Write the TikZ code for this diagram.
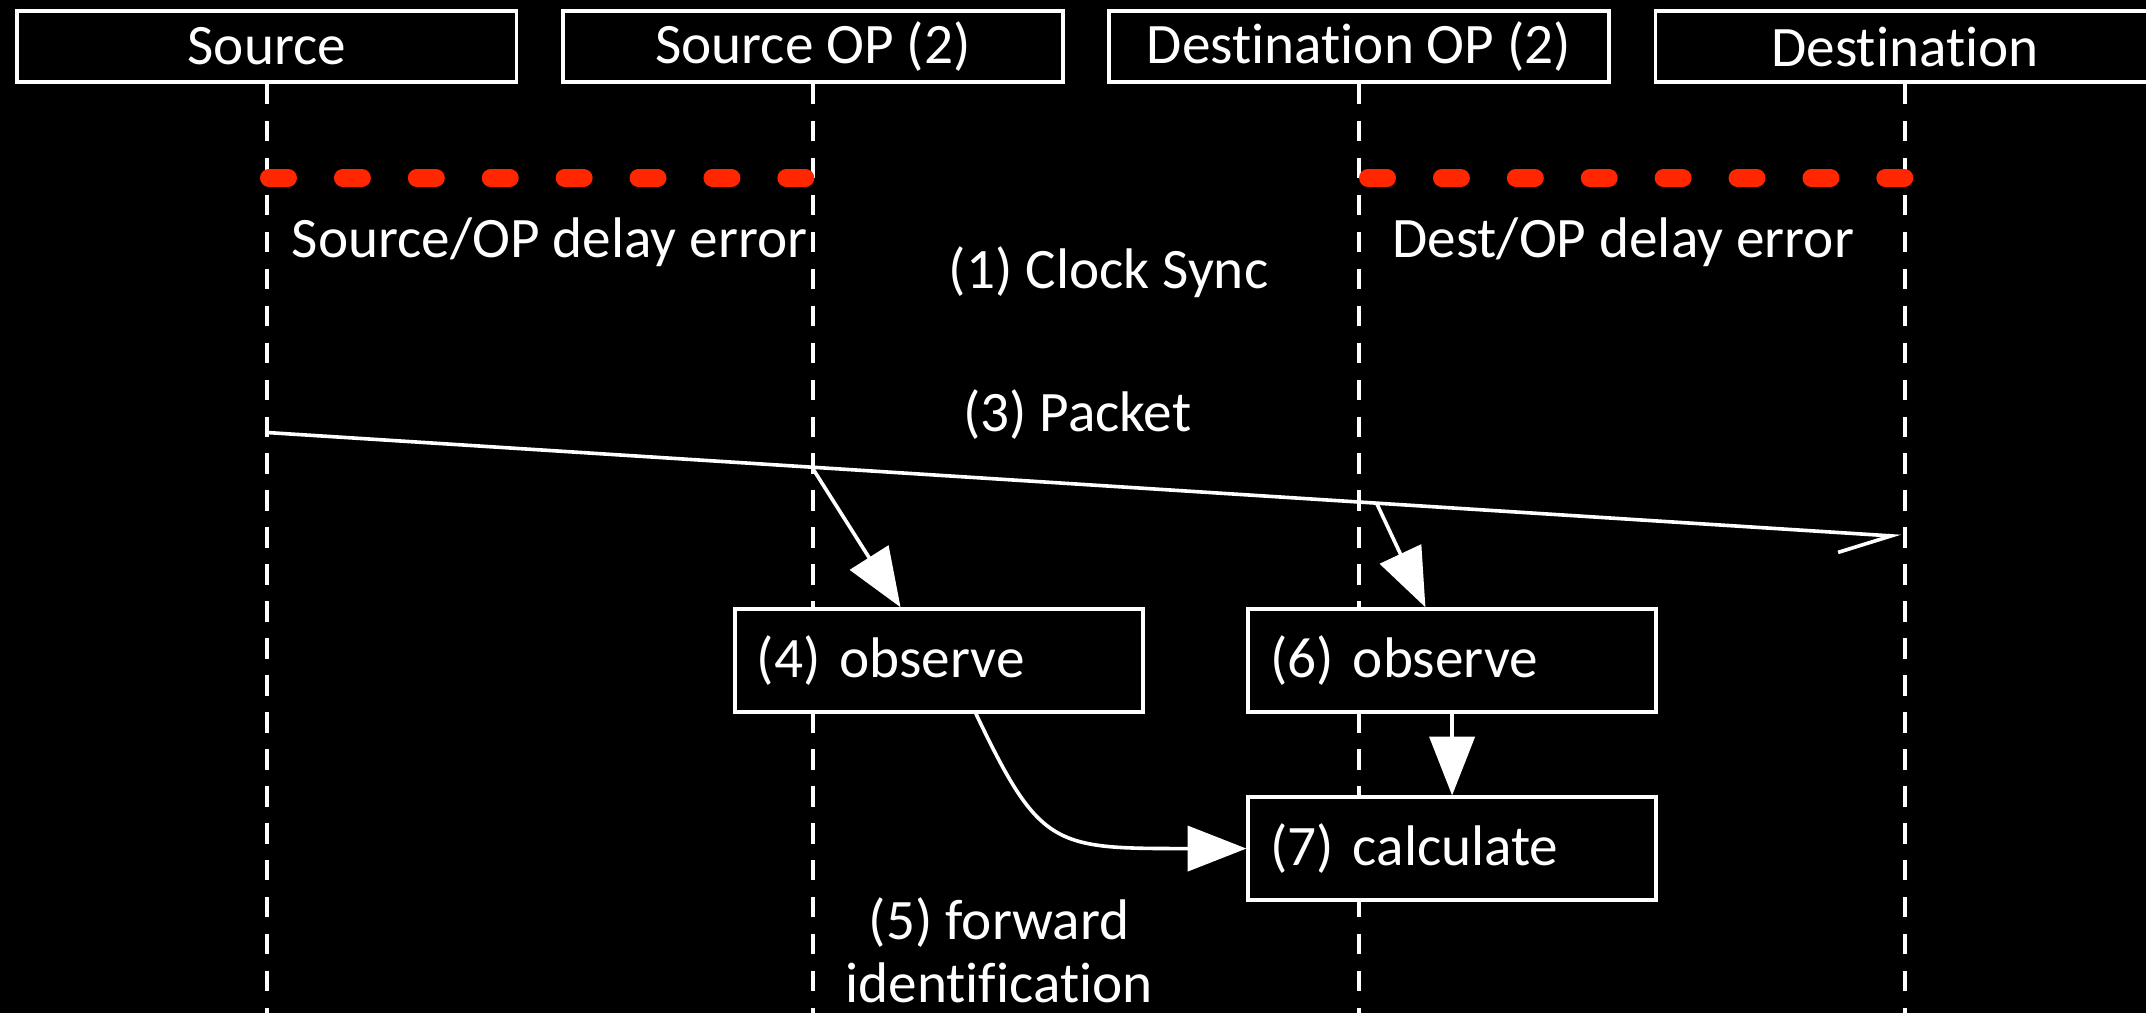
\documentclass[tikz,border=0pt]{standalone}
\usepackage{fontspec}
\setmainfont{Carlito}[Ligatures=NoCommon]
\usetikzlibrary{arrows.meta}
\definecolor{delayred}{RGB}{255,38,0}

\begin{document}
\begin{tikzpicture}[x=0.1mm,y=-0.1mm,line width=0.75pt,white,font=\fontsize{11.9}{13.1}\selectfont]
	\useasboundingbox (0,0) rectangle (1568,740);
	\fill[black] (0,0) rectangle (1568,740);

	% header boxes
	\begin{scope}[every node/.style={draw,fill=black,minimum width=36.5mm,minimum height=5.2mm,inner sep=0pt}]
		\node (S) at (195,34) {Source};
		\node (SOP) at (594,34) {Source OP (2)};
		\node (DOP) at (993,34) {Destination OP (2)};
		\node (D) at (1392,34) {Destination};
	\end{scope}

	% lifelines
	\coordinate (Sbot) at (195,745);
	\coordinate (SOPbot) at (594,745);
	\coordinate (DOPbot) at (993,745);
	\coordinate (Dbot) at (1392,745);
	\begin{scope}[dash pattern=on 1.5mm off 1.2mm]
		\draw (S) -- (Sbot);
		\draw (SOP) -- (SOPbot);
		\draw (DOP) -- (DOPbot);
		\draw (D) -- (Dbot);
	\end{scope}

	% delay errors
	\coordinate (serr1) at (196.5,130);
	\coordinate (serr2) at (588.5,130);
	\coordinate (derr1) at (999.5,130);
	\coordinate (derr2) at (1391.5,130);
	\begin{scope}[delayred,line width=1.3mm,line cap=round,dash pattern=on 1.4mm off 4mm]
		\draw (serr1) -- (serr2);
		\draw (derr1) -- (derr2);
	\end{scope}
	\begin{scope}[every node/.style={inner sep=0pt}]
		\node[anchor=base west] (srcerr) at (212,188) {Source/OP delay error};
		\node[anchor=base west] (dsterr) at (1016,188) {Dest/OP delay error};
		\node[anchor=base] (sync) at (810,211) {(1) Clock Sync};
		\node[anchor=base] (pkt) at (787,315) {(3) Packet};
		\node[align=center] (fwd) at (730,694) {(5) forward\\identification};
	\end{scope}

	% packet
	\coordinate (pktstart) at (195,316);
	\coordinate (pktend) at (1389,392);
	\coordinate (tap1) at (593,341);
	\coordinate (tap2) at (1006,368);
	\draw[-{Straight Barb[right,length=3.8mm,width=2.9mm]}] (pktstart) -- (pktend);

	% observe and calculate
	\begin{scope}[every node/.style={draw,fill=black,text width=26.6mm,inner xsep=1.6mm,minimum height=7.5mm,align=left}]
		\node (obs4) at (686,482.5) {(4) observe};
		\node (obs6) at (1061,482.5) {(6) observe};
		\node (calc) at (1061,620) {(7) calculate};
	\end{scope}

	\begin{scope}[>={Triangle[length=4.3mm,width=3.3mm]}]
		\draw[->] (tap1) -- ([xshift=-2.8mm]obs4.north);
		\draw[->] (tap2) -- ([xshift=-1.95mm]obs6.north);
		\path[->] (obs6) edge (calc);
		\draw[->] ([xshift=2.7mm]obs4.south) .. controls (760,620) and (770,620) .. (calc.west);
	\end{scope}
\end{tikzpicture}
\end{document}
